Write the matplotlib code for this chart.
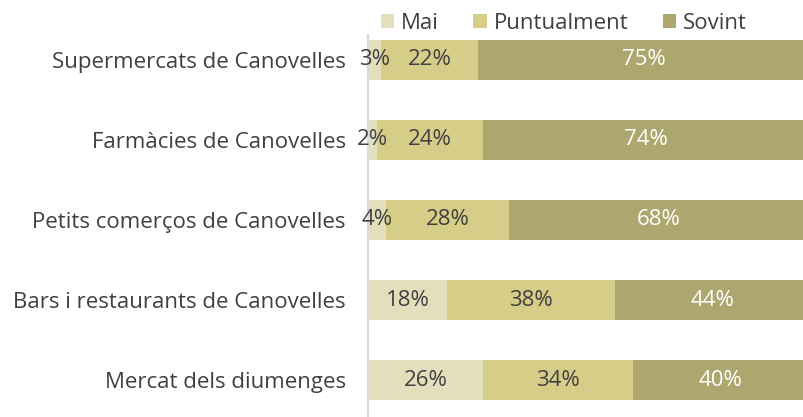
import numpy as np
import matplotlib.pyplot as plt

plt.rcParams['font.family'] = ['Open Sans', 'DejaVu Sans']

categories = ['Supermercats de Canovelles', 'Farmàcies de Canovelles',
              'Petits comerços de Canovelles', 'Bars i restaurants de Canovelles',
              'Mercat dels diumenges']
series = ['Mai', 'Puntualment', 'Sovint']
mai = [3, 2, 4, 18, 26]
puntualment = [22, 24, 28, 38, 34]
sovint = [75, 74, 68, 44, 40]

colors = ['#E3DFBD', '#D6CD88', '#ADA66E']
text_colors = ['#404040', '#404040', 'white']
fs = 16

fig = plt.figure(figsize=(8.04, 4.17), dpi=100)
ax = fig.add_axes([368 / 804, 0, 441 / 804, (417 - 35) / 417])

y = np.arange(len(categories))
left = np.zeros(len(categories))
for name, vals, c, tc in zip(series, [mai, puntualment, sovint], colors, text_colors):
    vals = np.array(vals, dtype=float)
    ax.barh(y, vals, left=left, height=0.5, color=c, label=name)
    for yi, l, v in zip(y, left, vals):
        ax.text(l + v / 2, yi, f'{int(v)}%', ha='center', va='center',
                color=tc, fontsize=fs)
    left += vals

ax.set_xlim(0, 100)
ax.set_ylim(4.46, -0.31)
ax.set_yticks(y)
ax.set_yticklabels(categories, fontsize=fs, color='#404040')
ax.tick_params(axis='y', length=0, pad=16)
ax.set_xticks([])
for s in ['top', 'right', 'bottom']:
    ax.spines[s].set_visible(False)
ax.spines['left'].set_color('#D9D9D9')
ax.spines['left'].set_linewidth(1.5)

leg = fig.legend(loc='upper left', bbox_to_anchor=(370 / 804, 0.995), ncol=3,
                 frameon=False, fontsize=fs, handlelength=0.6, handleheight=0.6,
                 columnspacing=1.55, handletextpad=0.3, borderaxespad=0.1)
for t in leg.get_texts():
    t.set_color('#404040')

fig.savefig('out.png', dpi=100)
